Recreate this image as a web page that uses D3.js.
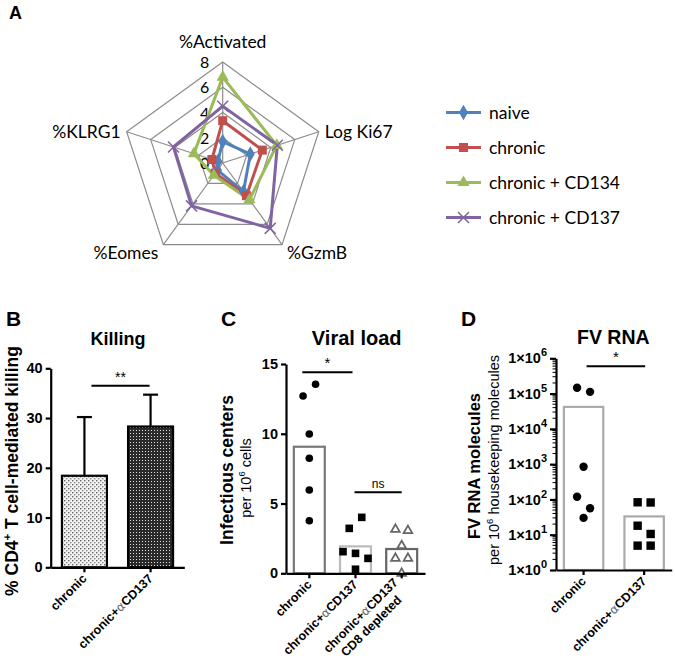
<!DOCTYPE html>
<html><head><meta charset="utf-8">
<script src="https://cdn.jsdelivr.net/npm/d3@7"></script>
<style>
body{margin:0;background:#fff}
svg{display:block}
text{font-family:"Liberation Sans",Arial,sans-serif}
.rad text,.rad{font-family:Lato,"Open Sans",sans-serif}
</style>
</head><body><svg id="c" width="675" height="659"></svg>
<script>
// ---------------- DATA ----------------
const radarAxes = ["%Activated", "Log Ki67", "%GzmB", "%Eomes", "%KLRG1"];
const radarTicks = [0, 2, 4, 6, 8];
const seriesNames = ["naive", "chronic", "chronic + CD134", "chronic + CD137"];
const naiveVals   = [1.7, 2.3, 2.8, 0.7, 0.4];
const chronicVals = [3.35, 3.3, 3.2, 1.0, 0.9];
const cd134Vals   = [6.8, 4.5, 3.6, 1.2, 2.4];
const cd137Vals   = [4.5, 4.55, 6.4, 4.2, 4.1];

const killingGroups = ["chronic", "chronic+αCD137"];
const killingMean = [18.4, 28.3];
const killingErr  = [11.8, 6.4];
const killingTicks = [0, 10, 20, 30, 40];

const viralGroups = ["chronic", "chronic+αCD137", "chronic+αCD137|CD8 depleted"];
const viralChronic  = [12.71, 13.55, 9.98, 8.24, 5.97, 3.77];
const viralCD137    = [3.22, 4.01, 1.55, 1.43, 1.07, 0.29];
const viralDepleted = [3.15, 3.06, 1.98, 1.07, 1.07, 0.0];
const viralMean = [9.07, 1.93, 1.74];
const viralTicks = [0, 5, 10, 15];

const fvGroups = ["chronic", "chronic+αCD137"];
const fvChronic = [146000, 112000, 846, 119, 56, 30];
const fvCD137   = [83, 82, 18, 10.5, 4.9, 4.9];
const fvMean = [42000, 33];
const fvTicks = [1, 10, 100, 1000, 10000, 100000, 1000000];

// ---------------- SETUP ----------------
const svg = d3.select("#c");
const seriesColors = ["#4F81BD", "#C0504D", "#9BBB59", "#8064A2"];
const radarSeries = [naiveVals, chronicVals, cd134Vals, cd137Vals];

// patterns
const defs = svg.append("defs");
const p1 = defs.append("pattern").attr("id","dots").attr("patternUnits","userSpaceOnUse").attr("width",4).attr("height",4);
p1.append("rect").attr("width",4).attr("height",4).attr("fill","#f2f2f2");
p1.append("rect").attr("x",0).attr("y",0).attr("width",1.4).attr("height",1.4).attr("fill","#666");
p1.append("rect").attr("x",2).attr("y",2).attr("width",1.4).attr("height",1.4).attr("fill","#888");
const p2 = defs.append("pattern").attr("id","check").attr("patternUnits","userSpaceOnUse").attr("width",3).attr("height",3);
p2.append("rect").attr("width",3).attr("height",3).attr("fill","#2a2a2a");
p2.append("rect").attr("x",1).attr("y",1).attr("width",1).attr("height",1).attr("fill","#e0e0e0");

// panel letters
function letter(t, x, y, size) {
  svg.append("text").attr("x", x).attr("y", y).attr("font-weight", "bold")
    .attr("font-size", size).text(t);
}
letter("A", 9, 19, 18);
letter("B", 6, 326, 21);
letter("C", 221, 326, 21);
letter("D", 461, 326, 21);

// ---------------- RADAR ----------------
const rad = svg.append("g").attr("class", "rad");
const rc = {cx: 222.7, cy: 163, R: 101};
const rScale = d3.scaleLinear().domain([0, 8]).range([0, rc.R]);
const ang = i => i * 2 * Math.PI / radarAxes.length;
const pt = (i, v) => [rc.cx + rScale(v) * Math.sin(ang(i)), rc.cy - rScale(v) * Math.cos(ang(i))];
const closed = d3.line().curve(d3.curveLinearClosed);

radarTicks.slice(1).forEach(t => {
  rad.append("path").attr("d", closed(radarAxes.map((a, i) => pt(i, t))))
    .attr("fill", "none").attr("stroke", "#8c8c8c").attr("stroke-width", 1.2);
});
radarAxes.forEach((a, i) => {
  const [x, y] = pt(i, 8);
  rad.append("line").attr("x1", rc.cx).attr("y1", rc.cy).attr("x2", x).attr("y2", y)
    .attr("stroke", "#8c8c8c").attr("stroke-width", 1.2);
});
radarTicks.forEach(t => {
  rad.append("text").attr("x", rc.cx - 18).attr("y", rc.cy - rScale(t) + 6)
    .attr("text-anchor", "middle").attr("font-size", 16).text(t);
});
const labPos = [
  {dx: 0, dy: -14, anchor: "middle"},
  {dx: 6, dy: 6, anchor: "start"},
  {dx: 5, dy: 14, anchor: "start"},
  {dx: -5, dy: 14, anchor: "end"},
  {dx: -6, dy: 6, anchor: "end"}
];
radarAxes.forEach((a, i) => {
  const [x, y] = pt(i, 8);
  rad.append("text").attr("x", x + labPos[i].dx).attr("y", y + labPos[i].dy)
    .attr("text-anchor", labPos[i].anchor).attr("font-size", 17.5).text(a);
});

function marker(g, k, x, y) {
  const c = seriesColors[k];
  if (k === 0) g.append("path").attr("d", d3.symbol(d3.symbolDiamond, 70)()).attr("transform", `translate(${x},${y})`).attr("fill", c);
  if (k === 1) g.append("rect").attr("x", x - 4.5).attr("y", y - 4.5).attr("width", 9).attr("height", 9).attr("fill", c);
  if (k === 2) g.append("path").attr("d", d3.symbol(d3.symbolTriangle, 65)()).attr("transform", `translate(${x},${y})`).attr("fill", c);
  if (k === 3) {
    g.append("path").attr("d", `M${x-5.5},${y-5.5}L${x+5.5},${y+5.5}M${x-5.5},${y+5.5}L${x+5.5},${y-5.5}`)
      .attr("stroke", c).attr("stroke-width", 1.5);
  }
}
radarSeries.forEach((vals, k) => {
  const pts = vals.map((v, i) => pt(i, v));
  rad.append("path").attr("d", closed(pts)).attr("fill", "none")
    .attr("stroke", seriesColors[k]).attr("stroke-width", 3).attr("stroke-linejoin", "round");
});
radarSeries.forEach((vals, k) => {
  vals.forEach((v, i) => { const [x, y] = pt(i, v); marker(rad, k, x, y); });
});
seriesNames.forEach((n, k) => {
  const y = 112.5 + k * 35;
  rad.append("line").attr("x1", 446).attr("x2", 481).attr("y1", y).attr("y2", y)
    .attr("stroke", seriesColors[k]).attr("stroke-width", 3);
  marker(rad, k, 463.5, y);
  rad.append("text").attr("x", 489).attr("y", y + 6).attr("font-size", 17.5).text(n);
});

// ---------------- helpers ----------------
function groupLabel(g, name, x, y0) {
  const lines = name.split("|");
  const t = g.append("text").attr("font-weight", "bold").attr("font-size", 12.5)
    .attr("transform", `translate(${x + (lines.length > 1 ? -3 : 3)},${y0 + (lines.length > 1 ? 10 : 12)}) rotate(-45)`)
    .attr("text-anchor", "end");
  const spans = [];
  lines.forEach((ln, li) => {
    const parts = ln.split("α");
    const tl = t.append("tspan").attr("x", 0).attr("dy", li === 0 ? 0 : "1.2em");
    parts.forEach((p, pi) => {
      if (pi > 0) tl.append("tspan").attr("font-weight", "normal").attr("fill", "#666").attr("font-family", "DejaVu Sans").attr("font-size", 12).text("α");
      tl.append("tspan").text(p);
    });
    spans.push(tl);
  });
  if (spans.length > 1) {
    const L0 = spans[0].node().getComputedTextLength();
    for (let i = 1; i < spans.length; i++) {
      const L = spans[i].node().getComputedTextLength();
      spans[i].attr("x", -(L0 - L) / 2);
    }
  }
}
function styleAxis(ax) {
  ax.selectAll("path,line").attr("stroke", "#000").attr("stroke-width", 2.2);
  ax.selectAll("text").attr("font-weight", "bold").attr("font-size", 14.5).attr("fill", "#000")
    .attr("font-family", "Liberation Sans, Arial, sans-serif");
}
function sigLine(g, x1, x2, y, label, size, weight) {
  g.append("line").attr("x1", x1).attr("x2", x2).attr("y1", y).attr("y2", y)
    .attr("stroke", "#000").attr("stroke-width", 2);
  g.append("text").attr("x", (x1 + x2) / 2).attr("y", y - 4).attr("text-anchor", "middle")
    .attr("font-size", size).attr("font-weight", weight || "normal").text(label);
}
function swarm(vals, yScale, thr, spacing) {
  const idx = vals.map((v, i) => i).sort((a, b) => vals[b] - vals[a]);
  const off = new Array(vals.length).fill(0);
  let cluster = [];
  const flush = () => {
    const ordered = cluster.slice().sort((a, b) => a - b);
    ordered.forEach((id, j) => off[id] = (j - (ordered.length - 1) / 2) * spacing);
    cluster = [];
  };
  idx.forEach(i => {
    if (cluster.length && Math.abs(yScale(vals[i]) - yScale(vals[cluster[0]])) > thr) flush();
    cluster.push(i);
  });
  if (cluster.length) flush();
  return off;
}
function rotTitle(g, x, y, parts, size, weight) {
  const t = g.append("text").attr("transform", `translate(${x},${y}) rotate(-90)`)
    .attr("text-anchor", "middle").attr("font-size", size).attr("font-weight", weight);
  parts.forEach(p => {
    if (p.sup) {
      t.append("tspan").attr("dy", -size * 0.4).attr("font-size", size * 0.65).text(p.sup);
      t.append("tspan").attr("dy", size * 0.4).text(p.after || "");
    } else t.append("tspan").text(p.t);
  });
}

// ---------------- PANEL B ----------------
const gB = svg.append("g");
const bx = d3.scaleBand().domain(killingGroups).range([50.7, 184.3]).paddingInner(0.32).paddingOuter(0.17);
const by = d3.scaleLinear().domain([0, 40]).range([567.3, 368.3]);
gB.selectAll("rect.bar").data(killingGroups).join("rect").attr("class", "bar")
  .attr("x", d => bx(d)).attr("width", bx.bandwidth())
  .attr("y", (d, i) => by(killingMean[i])).attr("height", (d, i) => by(0) - by(killingMean[i]))
  .attr("fill", (d, i) => i === 0 ? "url(#dots)" : "url(#check)")
  .attr("stroke", "#000").attr("stroke-width", 2.2);
killingGroups.forEach((d, i) => {
  const cx = bx(d) + bx.bandwidth() / 2;
  gB.append("line").attr("x1", cx).attr("x2", cx).attr("y1", by(killingMean[i])).attr("y2", by(killingMean[i] + killingErr[i]))
    .attr("stroke", "#000").attr("stroke-width", 2.2);
  gB.append("line").attr("x1", cx - 7.5).attr("x2", cx + 7.5).attr("y1", by(killingMean[i] + killingErr[i])).attr("y2", by(killingMean[i] + killingErr[i]))
    .attr("stroke", "#000").attr("stroke-width", 2.2);
});
const axBy = gB.append("g").attr("transform", "translate(50.7,0)")
  .call(d3.axisLeft(by).tickValues(killingTicks).tickSize(5).tickSizeOuter(0).tickPadding(3));
styleAxis(axBy);
const axBx = gB.append("g").attr("transform", "translate(0,567.3)")
  .call(d3.axisBottom(bx).tickSize(5).tickSizeOuter(0).tickFormat(""));
styleAxis(axBx);
killingGroups.forEach(d => groupLabel(gB, d, bx(d) + bx.bandwidth() / 2, 567.3));
gB.append("text").attr("x", 118).attr("y", 345).attr("text-anchor", "middle")
  .attr("font-size", 18).attr("font-weight", "bold").text("Killing");
rotTitle(gB, 17.5, 471, [{t: "% CD4"}, {sup: "+", after: " "}, {t: "T cell-mediated killing"}], 17.5, "bold");
sigLine(gB, bx(killingGroups[0]) + bx.bandwidth() / 2 + 7, bx(killingGroups[1]) + bx.bandwidth() / 2 - 1, by(36.5), "**", 14);

// ---------------- PANEL C ----------------
const gC = svg.append("g");
const cx = d3.scaleBand().domain(viralGroups).range([286, 425]).paddingInner(0.33).paddingOuter(0.17);
const cy = d3.scaleLinear().domain([0, 15]).range([573.3, 364]);
const cStroke = ["#777", "#bbb", "#666"];
gC.selectAll("rect.bar").data(viralGroups).join("rect").attr("class", "bar")
  .attr("x", d => cx(d)).attr("width", cx.bandwidth())
  .attr("y", (d, i) => cy(viralMean[i])).attr("height", (d, i) => cy(0) - cy(viralMean[i]))
  .attr("fill", "#fff").attr("stroke", (d, i) => cStroke[i]).attr("stroke-width", 2.2);
const cSets = [viralChronic, viralCD137, viralDepleted];
cSets.forEach((vals, gi) => {
  const mid = cx(viralGroups[gi]) + cx.bandwidth() / 2;
  const off = swarm(vals, cy, 12, 12.5);
  vals.forEach((v, i) => {
    const x = mid + off[i], y = cy(v);
    if (gi === 0) gC.append("circle").attr("cx", x).attr("cy", y).attr("r", 3.8).attr("fill", "#000");
    if (gi === 1) gC.append("rect").attr("x", x - 3.8).attr("y", y - 3.8).attr("width", 7.6).attr("height", 7.6).attr("fill", "#000");
    if (gi === 2) gC.append("path").attr("d", d3.symbol(d3.symbolTriangle, 32)()).attr("transform", `translate(${x},${y})`)
      .attr("fill", "#fff").attr("stroke", "#666").attr("stroke-width", 1.8);
  });
});
const axCy = gC.append("g").attr("transform", "translate(286,0)")
  .call(d3.axisLeft(cy).tickValues(viralTicks).tickSize(5).tickSizeOuter(0).tickPadding(3));
styleAxis(axCy);
const axCx = gC.append("g").attr("transform", "translate(0,573.3)")
  .call(d3.axisBottom(cx).tickSize(5).tickSizeOuter(0).tickFormat(""));
styleAxis(axCx);
viralGroups.forEach(d => groupLabel(gC, d, cx(d) + cx.bandwidth() / 2, 573.3));
gC.append("text").attr("x", 356.7).attr("y", 345).attr("text-anchor", "middle")
  .attr("font-size", 20).attr("font-weight", "bold").text("Viral load");
rotTitle(gC, 233, 470, [{t: "Infectious centers"}], 17.5, "bold");
rotTitle(gC, 251, 478, [{t: "per 10"}, {sup: "6", after: " cells"}], 14.5, "normal");
const cc = viralGroups.map(d => cx(d) + cx.bandwidth() / 2);
sigLine(gC, cc[0] - 7, cc[1] - 3, cy(14.4), "*", 15);
sigLine(gC, cc[1] - 1, cc[2], cy(5.8), "ns", 12);

// ---------------- PANEL D ----------------
const gD = svg.append("g");
const dx = d3.scaleBand().domain(fvGroups).range([556, 671.7]).paddingInner(0.35).paddingOuter(0.13);
const dy = d3.scaleLog().domain([1, 1e6]).range([570, 358.3]);
gD.selectAll("rect.bar").data(fvGroups).join("rect").attr("class", "bar")
  .attr("x", d => dx(d)).attr("width", dx.bandwidth())
  .attr("y", (d, i) => dy(fvMean[i])).attr("height", (d, i) => dy(1) - dy(fvMean[i]))
  .attr("fill", "#fff").attr("stroke", "#aaa").attr("stroke-width", 2.2);
const dSets = [fvChronic, fvCD137];
dSets.forEach((vals, gi) => {
  const mid = dx(fvGroups[gi]) + dx.bandwidth() / 2;
  const off = swarm(vals, dy, 12, 13);
  vals.forEach((v, i) => {
    const x = mid + off[i], y = dy(v);
    if (gi === 0) gD.append("circle").attr("cx", x).attr("cy", y).attr("r", 4.2).attr("fill", "#000");
    else gD.append("rect").attr("x", x - 4.2).attr("y", y - 4.2).attr("width", 8.4).attr("height", 8.4).attr("fill", "#000");
  });
});
const minor = [];
fvTicks.slice(0, -1).forEach(t => { for (let k = 2; k <= 9; k++) minor.push(t * k); });
gD.selectAll("line.minor").data(minor).join("line").attr("class", "minor")
  .attr("x1", 556).attr("x2", 552.5).attr("y1", d => dy(d)).attr("y2", d => dy(d))
  .attr("stroke", "#000").attr("stroke-width", 1);
const axDy = gD.append("g").attr("transform", "translate(556,0)")
  .call(d3.axisLeft(dy).tickValues(fvTicks).tickSize(6).tickSizeOuter(0).tickPadding(3).tickFormat(d => d));
styleAxis(axDy);
axDy.selectAll(".tick text").each(function(d) {
  const e = Math.round(Math.log10(d));
  const t = d3.select(this).text("");
  t.append("tspan").text("1×10");
  t.append("tspan").attr("dy", -7).attr("font-size", 11).text(e);
  t.attr("dy", "0.32em");
});
const axDx = gD.append("g").attr("transform", "translate(0,570)")
  .call(d3.axisBottom(dx).tickSize(5).tickSizeOuter(0).tickFormat(""));
styleAxis(axDx);
fvGroups.forEach(d => groupLabel(gD, d, dx(d) + dx.bandwidth() / 2, 570));
gD.append("text").attr("x", 613.3).attr("y", 343.5).attr("text-anchor", "middle")
  .attr("font-size", 19.5).attr("font-weight", "bold").text("FV RNA");
rotTitle(gD, 480, 466, [{t: "FV RNA molecules"}], 16.5, "bold");
rotTitle(gD, 499, 460, [{t: "per 10"}, {sup: "6", after: " housekeeping molecules"}], 14.5, "normal");
const dc = fvGroups.map(d => dx(d) + dx.bandwidth() / 2);
sigLine(gD, dc[0] + 3, dc[1] + 1, dy(6e5), "*", 15);
</script>
</body></html>
